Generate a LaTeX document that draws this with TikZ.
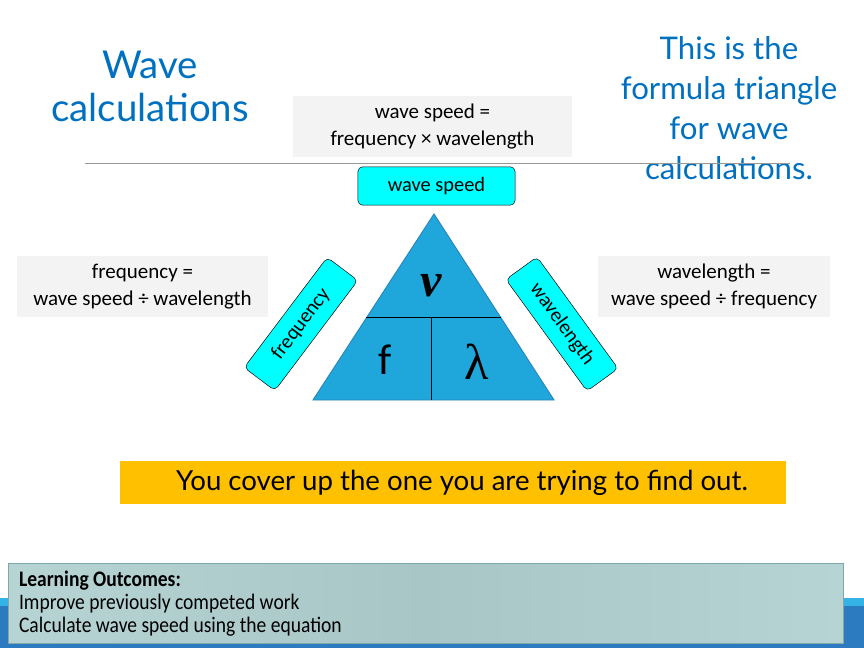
\documentclass[tikz,border=0pt]{standalone}
\usepackage{amsmath,amssymb}
\usepackage{fontspec}
\setmainfont{Carlito}
\newfontfamily\gillfont{Lato}
\newfontfamily\greekfont{Liberation Serif}
\newfontfamily\narrowfont[FakeStretch=0.88]{Carlito}
\usetikzlibrary{positioning,calc}
\usepackage{xcolor}
\definecolor{titleblue}{HTML}{0070C0}
\definecolor{formulagray}{HTML}{F3F3F3}
\definecolor{tagcyan}{HTML}{00FFFF}
\definecolor{triblue}{HTML}{1FA6DB}
\definecolor{triedge}{HTML}{2A86BE}
\definecolor{coveryellow}{HTML}{FFC000}
\definecolor{bandblue}{HTML}{2C7BC0}
\definecolor{stripeblue}{HTML}{34B4E6}
\definecolor{outcomeA}{HTML}{B6D4D3}
\definecolor{outcomeB}{HTML}{A8C6C6}
\definecolor{outcomeedge}{HTML}{7FA9A8}

\tikzset{
  formulabox/.style={fill=formulagray,align=center,inner sep=0pt,
    minimum height=50.8pt,font=\fontsize{17.5}{22}\selectfont},
  tagbox/.style={draw=black,fill=tagcyan,rounded corners=4pt,inner sep=0pt,
    minimum height=32pt,font=\fontsize{17}{19}\selectfont},
  bluetext/.style={text=titleblue,align=center,font=\gillfont\fontsize{32}{36}\selectfont},
  trilabel/.style={font=\fontsize{36}{36}\selectfont},
}

\begin{document}
\begin{tikzpicture}[x=0.8333pt,y=-0.8333pt]
\useasboundingbox (0,0) rectangle (864,648);

% headings
\node[bluetext] (title) at (150,86) {Wave\\calculations};
\node[bluetext,font=\gillfont\fontsize{26}{33.5}\selectfont] (note) at (729,108)
  {This is the\\formula triangle\\for wave\\calculations.};
\draw[gray!80,line width=0.8pt] (85,163) -- (790,163);

% the three formulas
\node[formulabox,minimum width=232.5pt] (speedeq) at (432.5,126.5)
  {wave speed =\\frequency × wavelength};
\node[formulabox,minimum width=209pt] (freqeq) at (142.5,286.5)
  {frequency =\\wave speed ÷ wavelength};
\node[formulabox,minimum width=193pt] (waveeq) at (714,286.5)
  {wavelength =\\wave speed ÷ frequency};

% formula triangle
\coordinate (apex) at (434,214);
\coordinate (bl) at (313,400);
\coordinate (br) at (554,400);
\fill[triblue] (apex) -- (br) -- (bl) -- cycle;
\draw[triedge,line width=0.8pt] (apex) -- (br) -- (bl) -- cycle;
\coordinate (midl) at ($(apex)!0.559!(bl)$);
\coordinate (midr) at ($(apex)!0.559!(br)$);
\coordinate (midb) at (431,400);
\draw[black,line width=0.8pt] (midl) -- (midr);
\draw[black,line width=0.8pt] (midb |- midl) -- (midb);
\node[trilabel,font=\greekfont\bfseries\itshape\fontsize{40}{40}\selectfont] (nu) at (431,286) {ν};
\node[trilabel] (f) at (385,360) {f};
\node[trilabel,font=\greekfont\fontsize{42}{42}\selectfont] (lambda) at (477,362) {λ};

% cover tags
\node[tagbox,minimum width=131pt] (tagspeed) at (436.5,186) {wave speed};
\node[tagbox,minimum width=115pt,rotate=53] (tagfreq) at (301,324) {frequency};
\node[tagbox,minimum width=115pt,rotate=-54] (tagwave) at (562,324) {wavelength};

% hint
\node[fill=coveryellow,minimum width=555pt,minimum height=35.8pt,inner sep=0pt,
  font=\gillfont\fontsize{23}{26}\selectfont] (hint) at (453,482.5)
  {\hspace*{15pt}You cover up the one you are trying to find out.};

% footer
\fill[bandblue] (0,600) rectangle (864,648);
\fill[stripeblue] (0,598) rectangle (864,606);
\node[draw=outcomeedge,left color=outcomeA,right color=outcomeA,middle color=outcomeB,
  anchor=north west,minimum width=696pt,minimum height=66pt,text width=678pt,
  inner xsep=9pt,inner ysep=6pt,align=left,
  font=\narrowfont\fontsize{18.5}{19.2}\selectfont] (outcomes) at (8,563)
  {\spaceskip=0.2em\relax
   \textbf{Learning Outcomes:}\\Improve previously competed work\\Calculate wave speed using the equation};
\end{tikzpicture}
\end{document}
